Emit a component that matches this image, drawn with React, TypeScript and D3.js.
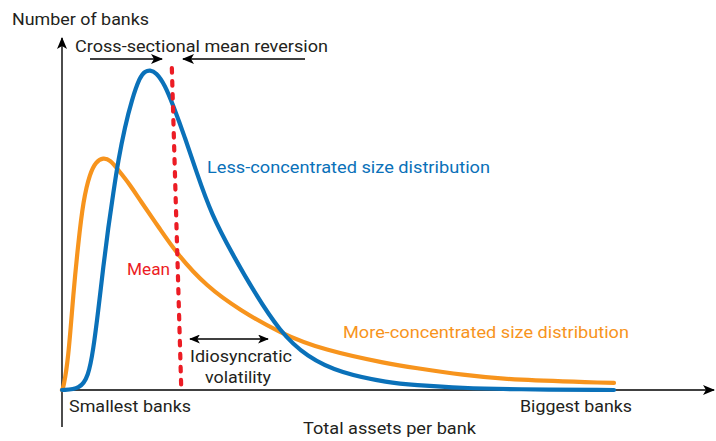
import React from "react";
import * as d3 from "d3";

// Curve readings (x: relative bank size 0-100, y: relative number of banks 0-100)
const lessX = [0, 3.26, 4.76, 5.67, 6.58, 7.48, 8.39, 9.29, 10.2, 11.41, 12.63, 14.13, 15.04, 15.94, 17.03, 18.66, 20.1, 22.3, 24.3, 27.1, 30.97, 34.6, 39.5, 44.4, 50.4, 59.4, 63.6, 72.6, 81.7, 100];
const lessY = [0, 0.3, 4.2, 12.5, 25, 38.5, 51, 61.5, 71.9, 82.3, 90.6, 98.0, 99.6, 100, 99.3, 95.3, 89.1, 78.8, 68.4, 54.7, 42.2, 31.25, 18.1, 10.3, 5.3, 2.2, 1.6, 0.6, 0.2, 0];
const moreX = [0, 0.24, 1.14, 2.05, 2.95, 3.86, 5.07, 6.16, 7.48, 8.7, 10.2, 12.3, 14.1, 17.75, 20.8, 26.2, 32.2, 39.5, 47.3, 59.4, 63.6, 72.6, 81.7, 100];
const moreY = [0, 0.6, 9.4, 30.3, 45.9, 59.4, 67.8, 71.4, 72.6, 71.9, 68.75, 64.2, 59.4, 50.3, 42.6, 32.3, 25, 17.8, 12.5, 8.1, 7.0, 4.7, 3.1, 2.2];
const meanX = [19.9, 21.6];
const meanY = [100.6, 0.6];

const yAxisLabel = "Number of banks";
const xAxisLabel = "Total assets per bank";
const xStartLabel = "Smallest banks";
const xEndLabel = "Biggest banks";
const lessLabel = "Less-concentrated size distribution";
const moreLabel = "More-concentrated size distribution";
const meanLabel = "Mean";
const reversionLabel = "Cross-sectional mean reversion";
const volatilityLabel = ["Idiosyncratic", "volatility"];

const BLUE = "#0a71b9";
const ORANGE = "#f7941d";
const RED = "#ec1c24";
const INK = "#231f20";
const FONT = "Roboto, 'Noto Sans', sans-serif";

function Label(props: { x: number; y: number; w: number; fill: string; children: string; anchor?: string }) {
  return (
    <text
      x={props.x}
      y={props.y}
      textLength={props.w}
      lengthAdjust="spacingAndGlyphs"
      textAnchor={props.anchor || "start"}
      fill={props.fill}
      style={{ fontFamily: FONT, fontSize: 17 }}
    >
      {props.children}
    </text>
  );
}

export default function App() {
  const W = 716, H = 441;
  const x = d3.scaleLinear().domain([0, 100]).range([62, 614]);
  const y = d3.scaleLinear().domain([0, 100]).range([390, 70]);
  const line = d3
    .line<[number, number]>()
    .x((d) => x(d[0]))
    .y((d) => y(d[1]))
    .curve(d3.curveBasis);
  const lessPts = lessX.map((v, i) => [v, lessY[i]] as [number, number]);
  const morePts = moreX.map((v, i) => [v, moreY[i]] as [number, number]);
  const meanPts = meanX.map((v, i) => [v, meanY[i]] as [number, number]);
  const meanLine = d3.line<[number, number]>().x((d) => x(d[0])).y((d) => y(d[1]));

  return (
    <svg
      width={W}
      height={H}
      style={{ position: "absolute", left: 0, top: 0, background: "#fff" }}
    >
      <defs>
        <marker id="ah" viewBox="0 0 12 10" refX="11" refY="5" markerWidth="12" markerHeight="10" markerUnits="userSpaceOnUse" orient="auto-start-reverse">
          <path d="M0,0 L12,5 L0,10 L3,5 Z" fill="#000" />
        </marker>
        <marker id="ah2" viewBox="0 0 12 10" refX="11" refY="5" markerWidth="11" markerHeight="9" markerUnits="userSpaceOnUse" orient="auto-start-reverse">
          <path d="M0,0 L12,5 L0,10 L3,5 Z" fill="#000" />
        </marker>
      </defs>

      {/* axes */}
      <line x1={62} y1={427} x2={62} y2={38} stroke="#000" strokeWidth={1.4} markerEnd="url(#ah)" />
      <line x1={61} y1={390} x2={714} y2={390} stroke="#000" strokeWidth={1.4} markerEnd="url(#ah)" />

      {/* curves */}
      <path d={line(morePts) || ""} fill="none" stroke={ORANGE} strokeWidth={4.2} strokeLinecap="round" />
      <path d={line(lessPts) || ""} fill="none" stroke={BLUE} strokeWidth={4.2} strokeLinecap="round" />

      {/* mean line */}
      <path d={meanLine(meanPts) || ""} fill="none" stroke={RED} strokeWidth={4.2} strokeDasharray="4.5 8.5" strokeLinecap="round" />

      {/* annotations */}
      <line x1={90} y1={59} x2={162} y2={59} stroke="#000" strokeWidth={1.5} markerEnd="url(#ah)" />
      <line x1={305} y1={59} x2={183} y2={59} stroke="#000" strokeWidth={1.5} markerEnd="url(#ah)" />
      <line x1={190} y1={339} x2={268} y2={339} stroke="#000" strokeWidth={1.5} markerStart="url(#ah2)" markerEnd="url(#ah2)" />

      <Label x={12} y={25} w={137} fill={INK}>{yAxisLabel}</Label>
      <Label x={75} y={52} w={253} fill={INK}>{reversionLabel}</Label>
      <Label x={69} y={412} w={122} fill={INK}>{xStartLabel}</Label>
      <Label x={520} y={412} w={112} fill={INK}>{xEndLabel}</Label>
      <Label x={303} y={434} w={173} fill={INK}>{xAxisLabel}</Label>
      <Label x={190} y={362} w={102} fill={INK}>{volatilityLabel[0]}</Label>
      <Label x={205} y={383} w={66} fill={INK}>{volatilityLabel[1]}</Label>
      <Label x={207} y={173} w={283} fill={BLUE}>{lessLabel}</Label>
      <Label x={343} y={338} w={286} fill={ORANGE}>{moreLabel}</Label>
      <Label x={127} y={275} w={43} fill={RED}>{meanLabel}</Label>
    </svg>
  );
}
